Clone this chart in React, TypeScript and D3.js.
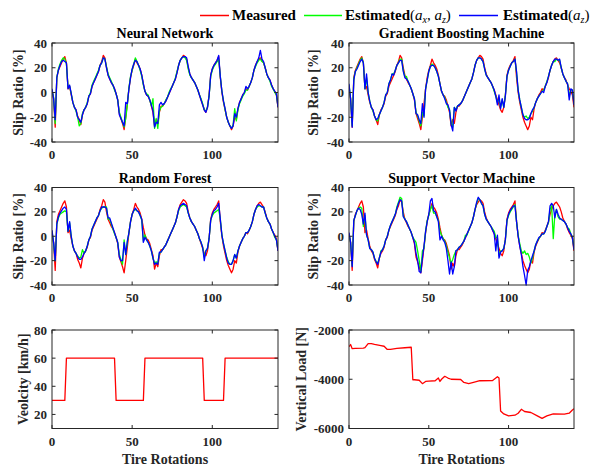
import React from "react";
import * as d3 from "d3";

// Tire rotation index shared by every slip-ratio series
const rotations: number[] = d3.range(0, 142);

// Measured slip ratio [%]
const measured: number[] = [
  2, -5, -28, 12, 18, 21, 24, 27, 29, 24,
  3, 5, -2, -8, -12, -14, -19, -22, -26, -18,
  -14, -12, -9, -3, -1, 5, 8, 11, 14, 17,
  22, 25, 30, 28, 20, 14, 11, 8, 6, 3,
  -1, -6, -17, -21, -25, -30, -20, -9, 3, 12,
  18, 22, 27, 24, 22, 19, 14, 7, 1, -2,
  -3, -6, -11, -16, -27, -22, -25, -16, -11, -11,
  -9, -7, -4, -1, 2, 5, 8, 11, 16, 22,
  26, 28, 30, 29, 27, 20, 15, 12, 10, 8,
  5, 2, -2, -6, -10, -14, -16, -12, -2, 14,
  19, 22, 24, 26, 29, 12, 0, -8, -14, -20,
  -24, -27, -30, -27, -20, -22, -13, -8, -5, -2,
  0, 3, 2, 5, 8, 12, 18, 22, 25, 27,
  28, 26, 24, 20, 15, 12, 10, 6, 3, 1,
  -2, -12,
];

// Neural network estimates
const nnAxAz: number[] = [
  2, -4, -25, 12, 19, 23, 26, 28, 27, 23,
  4, 5, -1, -8, -12, -15, -20, -27, -25, -17,
  -14, -12, -8, -3, 0, 6, 9, 12, 15, 18,
  22, 24, 28, 27, 21, 15, 12, 9, 6, 2,
  -1, -6, -16, -20, -24, -28, -21, -10, 4, 13,
  18, 23, 28, 25, 22, 18, 13, 6, 1, -1,
  -2, -6, -11, -5, -29, -21, -29, -15, -12, -11,
  -9, -6, -4, 0, 3, 5, 8, 12, 17, 22,
  26, 28, 29, 28, 26, 19, 14, 12, 10, 8,
  5, 2, -2, -5, -9, -14, -15, -12, -3, 13,
  18, 21, 23, 25, 27, 13, 1, -7, -14, -20,
  -24, -27, -29, -26, -13, -23, -14, -9, -6, -3,
  -1, 2, 2, 5, 8, 12, 18, 21, 24, 26,
  27, 25, 24, 20, 15, 12, 9, 5, 3, 0,
  -2, -11,
];
const nnAz: number[] = [
  3, -5, -22, 12, 18, 22, 25, 26, 25, 24,
  3, 6, -1, -8, -12, -14, -20, -22, -24, -18,
  -14, -12, -9, -3, -1, 5, 8, 11, 14, 17,
  22, 24, 28, 27, 20, 14, 11, 8, 6, 3,
  -1, -6, -18, -21, -24, -27, -8, -9, 3, 12,
  19, 23, 26, 25, 22, 19, 14, 7, 1, -2,
  -3, -6, -10, -15, -28, -24, -25, -10, -8, -10,
  -9, -7, -4, -1, 2, 5, 8, 11, 16, 22,
  26, 28, 29, 29, 28, 21, 15, 12, 10, 8,
  5, 2, -2, -6, -10, -14, -16, -12, -3, 14,
  19, 22, 24, 26, 30, 13, 1, -7, -13, -20,
  -24, -27, -29, -27, -17, -20, -13, -8, -5, -2,
  0, 5, 3, 5, 8, 12, 18, 22, 25, 28,
  34, 27, 25, 20, 15, 12, 10, 6, 3, 1,
  -1, -12,
];

// Gradient boosting machine estimates
const gbmAxAz: number[] = [
  6, -5, -27, 11, 17, 20, 23, 26, 28, 24,
  3, 12, 0, -7, -12, -15, -19, -22, -23, -18,
  -15, -12, -8, -2, 0, 7, 10, 15, 15, 18,
  22, 24, 27, 27, 18, 13, 13, 9, 6, 3,
  -1, -5, -16, -19, -23, -27, -16, -19, 3, 10,
  17, 21, 23, 22, 20, 17, 13, 7, 1, -2,
  -4, -8, -12, -14, -25, -28, -12, -14, -11, -10,
  -9, -7, -4, -1, 2, 5, 8, 11, 16, 22,
  26, 28, 28, 27, 25, 19, 14, 12, 10, 8,
  5, 1, -3, -8, -5, -12, -6, -12, -2, 13,
  18, 21, 24, 25, 27, 16, 2, -6, -12, -18,
  -20, -19, -21, -20, -17, -15, -12, -8, -5, -3,
  -1, 1, 2, 5, 9, 13, 18, 22, 25, 25,
  27, 26, 26, 20, 15, 12, 9, 7, -3, 2,
  2, -9,
];
const gbmAz: number[] = [
  7, -5, -28, 10, 17, 19, 22, 25, 27, 24,
  3, 15, 0, -7, -12, -14, -19, -22, -21, -18,
  -15, -12, -8, -2, 0, 7, 10, 15, 14, 18,
  22, 24, 26, 26, 17, 12, 11, 9, 6, 3,
  -1, -5, -17, -18, -22, -25, -9, -20, 3, 10,
  17, 21, 22, 22, 20, 17, 13, 7, 1, -2,
  -5, -9, -10, -14, -26, -31, -12, -15, -11, -10,
  -9, -7, -4, -1, 2, 5, 8, 11, 16, 22,
  26, 28, 28, 27, 25, 19, 14, 12, 10, 8,
  5, 2, -3, -10, -2, -13, -5, -12, -3, 13,
  18, 21, 24, 25, 27, 17, 2, -6, -12, -18,
  -21, -22, -22, -21, -17, -14, -12, -8, -5, -3,
  -1, 1, 0, 5, 8, 13, 18, 22, 25, 27,
  27, 26, 27, 20, 15, 12, 9, 7, -6, 3,
  2, -10,
];

// Random forest estimates
const rfAxAz: number[] = [
  4, -6, -20, 10, 15, 18, 19, 20, 21, 20,
  4, 11, 0, -8, -12, -14, -16, -18, -17, -11,
  -14, -12, -8, -3, 0, 6, 9, 12, 15, 17,
  21, 23, 24, 24, 24, 14, 14, 10, 6, 2,
  -1, -5, -15, -19, -23, -3, -15, -5, 3, 12,
  18, 21, 22, 21, 20, 17, 13, -4, 1, -3,
  -5, -8, -12, -18, -22, -21, -22, -14, -13, -11,
  -9, -7, -4, -1, 2, 5, 8, 11, 16, 21,
  24, 25, 26, 25, 24, 19, 15, 12, 10, 8,
  5, 2, -2, -5, -9, -17, -12, -10, -2, 13,
  17, 19, 20, 21, 22, 14, 1, -6, -12, -17,
  -21, -23, -23, -20, -15, -18, -12, -8, -5, -2,
  0, 3, 3, 5, 8, 12, 18, 22, 24, 25,
  25, 24, 24, 19, 15, 12, 10, 6, 3, -1,
  -3, -11,
];
const rfAz: number[] = [
  5, -5, -20, 10, 16, 19, 21, 23, 24, 22,
  4, 12, 0, -8, -12, -14, -17, -19, -19, -17,
  -14, -12, -8, -3, 0, 6, 9, 12, 15, 17,
  21, 24, 24, 24, 23, 15, 15, 11, 7, 3,
  -1, -5, -17, -20, -20, -5, -15, -4, 3, 12,
  18, 21, 23, 21, 20, 17, 14, -5, -1, -3,
  -5, -8, -12, -18, -23, -22, -23, -13, -13, -11,
  -9, -7, -4, -1, 2, 5, 8, 11, 16, 22,
  25, 26, 27, 26, 25, 19, 15, 12, 10, 8,
  5, 2, -2, -5, -9, -20, -12, -10, -2, 13,
  18, 21, 22, 24, 27, 14, 1, -6, -12, -18,
  -22, -23, -23, -20, -15, -18, -12, -8, -5, -2,
  0, 3, 3, 5, 8, 12, 18, 22, 25, 26,
  25, 24, 24, 19, 15, 12, 10, 6, 3, 0,
  -3, -12,
];

// Support vector machine estimates
const svmAxAz: number[] = [
  2, -5, -24, 13, 17, 21, 23, 24, 23, 8,
  17, 1, -3, -10, -11, -13, -18, -21, -22, -18,
  -12, -11, -8, -3, 0, 5, 9, 12, 15, 18,
  24, 28, 32, 31, 17, 14, 12, 9, 6, 3,
  -1, -3, -5, -12, -20, -29, -12, -10, 4, 13,
  17, 22, 25, 19, 19, 16, 13, 4, 1, -2,
  -4, -8, -13, -18, -22, -19, -15, -12, -11, -9,
  -8, -6, -4, 1, 1, 5, 8, 11, 16, 22,
  27, 31, 30, 27, 25, 18, 14, 12, 10, 8,
  6, 4, -1, -1, -16, -12, -12, -10, -3, 13,
  17, 20, 22, 24, 26, 12, 1, -6, -12, -14,
  -12, -15, -14, -17, -22, -18, -12, -7, -4, -2,
  0, 2, 2, 4, 8, 11, 22, 25, -2, 18,
  22, 16, 14, 14, 13, 12, 10, 7, 6, 2,
  -1, -10,
];
const svmAz: number[] = [
  3, -5, -25, 13, 17, 21, 23, 22, 18, 10,
  19, 1, -3, -10, -11, -13, -18, -21, -23, -18,
  -13, -11, -8, -3, 0, 5, 9, 12, 15, 18,
  23, 27, 30, 29, 16, 14, 12, 9, 6, 3,
  -1, -5, -14, -20, -29, -30, -18, -8, 4, 12,
  18, 29, 31, 21, 20, 16, 12, -3, 0, -3,
  -5, -10, -20, -31, -21, -31, -25, -12, -11, -9,
  -8, -6, -4, -1, 2, 5, 8, 11, 16, 22,
  28, 32, 30, 27, 25, 18, 14, 12, 10, 8,
  5, 2, -12, 1, -18, -13, -12, -10, -3, 13,
  18, 21, 23, 25, 25, 12, 0, -8, -15, -25,
  -32, -40, -28, -25, -20, -16, -12, -7, -4, -1,
  0, 2, 2, 4, 8, 12, 25, 27, 25, 15,
  22, 18, 15, 14, 13, 12, 10, 7, 4, 2,
  -1, -11,
];

// Vehicle velocity [km/h]
const velocityX: number[] = [0, 8, 9, 39, 40, 57, 58, 94, 95, 107, 108, 141];
const velocityY: number[] = [30, 30, 60, 60, 30, 30, 60, 60, 30, 30, 60, 60];

// Vertical tire load [N]
const loadX: number[] = [
  0, 1, 2, 4, 9, 10, 12, 14, 16, 20, 22, 24, 26, 30, 35, 39, 40, 41, 44, 46,
  48, 50, 54, 56, 57, 58, 60, 62, 64, 70, 72, 75, 78, 82, 90, 93, 94, 95, 97, 100,
  104, 106, 108, 110, 114, 118, 121, 124, 128, 135, 138, 140, 141,
];
const loadY: number[] = [
  -2680, -2590, -2760, -2750, -2740, -2720, -2550, -2550, -2580, -2630,
  -2660, -2790, -2790, -2750, -2720, -2700, -4020, -4020, -4040, -4180,
  -4090, -4080, -4060, -3950, -4090, -4000, -3880, -3950, -4000, -4010,
  -4130, -4180, -4130, -4060, -4050, -3900, -3950, -5290, -5410, -5490,
  -5460, -5380, -5220, -5310, -5350, -5490, -5590, -5490, -5410, -5420,
  -5380, -5250, -5200,
];

const slipTicks: number[] = [-40, -20, 0, 20, 40];
const rotationTicks: number[] = [0, 50, 100];
const velocityTicks: number[] = [20, 40, 60, 80];
const loadTicks: number[] = [-6000, -4000, -2000];

const RED = "#ff0000";
const GREEN = "#00ff00";
const BLUE = "#0000ff";
const AXIS = "#262626";
const FONT = "'Liberation Serif', 'Times New Roman', serif";

type Series = { xs: number[]; ys: number[]; color: string };

type PanelProps = {
  id: string;
  left: number;
  right: number;
  top: number;
  bottom: number;
  yDomain: [number, number];
  yTicks: number[];
  title?: string;
  yLabel: string;
  yLabelX: number;
  xLabel?: string;
  series: Series[];
};

function Panel(p: PanelProps) {
  const x = d3.scaleLinear().domain([0, 141]).range([p.left, p.right]);
  const y = d3.scaleLinear().domain(p.yDomain).range([p.bottom, p.top]);
  const gen = d3
    .line<[number, number]>()
    .x((d) => x(d[0]))
    .y((d) => y(d[1]));
  const tick = 3.5;
  const cy = (p.top + p.bottom) / 2;
  const cx = (p.left + p.right) / 2;
  return (
    <g fontFamily={FONT} fontWeight="bold" fill={AXIS}>
      <defs>
        <clipPath id={p.id}>
          <rect x={p.left} y={p.top - 1} width={p.right - p.left} height={p.bottom - p.top + 2} />
        </clipPath>
      </defs>
      <g clipPath={`url(#${p.id})`}>
        {p.series.map((s, k) => {
          const pts: [number, number][] = s.xs.map((v, i) => [v, s.ys[i]]);
          return (
            <path key={k} d={gen(pts) || ""} fill="none" stroke={s.color} strokeWidth={1.3} strokeLinejoin="round" />
          );
        })}
      </g>
      <rect x={p.left} y={p.top} width={p.right - p.left} height={p.bottom - p.top} fill="none" stroke={AXIS} strokeWidth={1} />
      {rotationTicks.map((t) => (
        <g key={"xt" + t}>
          <line x1={x(t)} x2={x(t)} y1={p.bottom} y2={p.bottom - tick} stroke={AXIS} />
          <line x1={x(t)} x2={x(t)} y1={p.top} y2={p.top + tick} stroke={AXIS} />
          <text x={x(t)} y={p.bottom + 17} textAnchor="middle" fontSize={13}>
            {t}
          </text>
        </g>
      ))}
      {p.yTicks.map((t) => (
        <g key={"yt" + t}>
          <line x1={p.left} x2={p.left + tick} y1={y(t)} y2={y(t)} stroke={AXIS} />
          <line x1={p.right} x2={p.right - tick} y1={y(t)} y2={y(t)} stroke={AXIS} />
          <text x={p.left - 5} y={y(t)} dy="0.35em" textAnchor="end" fontSize={13}>
            {t}
          </text>
        </g>
      ))}
      {p.title && (
        <text x={cx} y={p.top - 5} textAnchor="middle" fontSize={14} fill="#000">
          {p.title}
        </text>
      )}
      <text transform={`translate(${p.yLabelX},${cy}) rotate(-90)`} textAnchor="middle" fontSize={14}>
        {p.yLabel}
      </text>
      {p.xLabel && (
        <text x={cx} y={p.bottom + 35} textAnchor="middle" fontSize={14}>
          {p.xLabel}
        </text>
      )}
    </g>
  );
}

function slipSeries(axaz: number[], az: number[]): Series[] {
  return [
    { xs: rotations, ys: measured, color: RED },
    { xs: rotations, ys: axaz, color: GREEN },
    { xs: rotations, ys: az, color: BLUE },
  ];
}

export default function App() {
  const colL = { left: 52, right: 278 };
  const colR = { left: 349, right: 574 };
  const row1 = { top: 43, bottom: 142 };
  const row2 = { top: 187.5, bottom: 285 };
  const row3 = { top: 330, bottom: 428.5 };
  return (
    <svg width={608} height={468} style={{ position: "absolute", left: 0, top: 0, background: "#fff" }}>
      <rect x={0} y={0} width={608} height={468} fill="#fff" />
      {/* Legend */}
      <g fontFamily={FONT} fontSize={15} fill="#000">
        <line x1={200} x2={229} y1={15.5} y2={15.5} stroke={RED} strokeWidth={1.5} />
        <text x={232} y={20} fontWeight="bold">Measured</text>
        <line x1={304} x2={342} y1={15.5} y2={15.5} stroke={GREEN} strokeWidth={1.5} />
        <text x={345} y={20}>
          <tspan fontWeight="bold">Estimated</tspan>
          <tspan>(</tspan>
          <tspan fontStyle="italic">a</tspan>
          <tspan fontStyle="italic" fontSize={10} dy={3}>x</tspan>
          <tspan dy={-3}>, </tspan>
          <tspan fontStyle="italic">a</tspan>
          <tspan fontStyle="italic" fontSize={10} dy={3}>z</tspan>
          <tspan dy={-3}>)</tspan>
        </text>
        <line x1={459} x2={498} y1={15.5} y2={15.5} stroke={BLUE} strokeWidth={1.5} />
        <text x={503} y={20}>
          <tspan fontWeight="bold">Estimated</tspan>
          <tspan>(</tspan>
          <tspan fontStyle="italic">a</tspan>
          <tspan fontStyle="italic" fontSize={10} dy={3}>z</tspan>
          <tspan dy={-3}>)</tspan>
        </text>
      </g>
      <Panel id="c-nn" {...colL} {...row1} yDomain={[-40, 40]} yTicks={slipTicks} title="Neural Network"
        yLabel="Slip Ratio [%]" yLabelX={23} series={slipSeries(nnAxAz, nnAz)} />
      <Panel id="c-gbm" {...colR} {...row1} yDomain={[-40, 40]} yTicks={slipTicks} title="Gradient Boosting Machine"
        yLabel="Slip Ratio [%]" yLabelX={318} series={slipSeries(gbmAxAz, gbmAz)} />
      <Panel id="c-rf" {...colL} {...row2} yDomain={[-40, 40]} yTicks={slipTicks} title="Random Forest"
        yLabel="Slip Ratio [%]" yLabelX={23} series={slipSeries(rfAxAz, rfAz)} />
      <Panel id="c-svm" {...colR} {...row2} yDomain={[-40, 40]} yTicks={slipTicks} title="Support Vector Machine"
        yLabel="Slip Ratio [%]" yLabelX={318} series={slipSeries(svmAxAz, svmAz)} />
      <Panel id="c-vel" {...colL} {...row3} yDomain={[10, 80]} yTicks={velocityTicks}
        yLabel="Veolcity [km/h]" yLabelX={28} xLabel="Tire Rotations"
        series={[{ xs: velocityX, ys: velocityY, color: RED }]} />
      <Panel id="c-load" {...colR} {...row3} yDomain={[-6000, -2000]} yTicks={loadTicks}
        yLabel="Vertical Load [N]" yLabelX={306} xLabel="Tire Rotations"
        series={[{ xs: loadX, ys: loadY, color: RED }]} />
    </svg>
  );
}
